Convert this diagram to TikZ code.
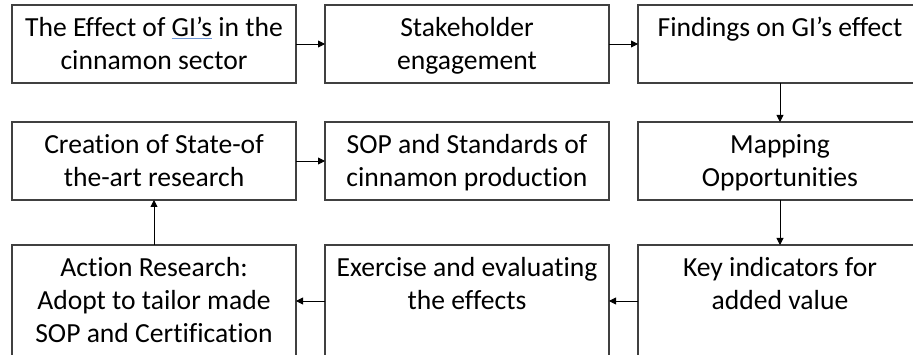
\documentclass[tikz,border=0pt]{standalone}
\usepackage{fontspec}
\setmainfont{Carlito}[Ligatures=NoCommon]
\usetikzlibrary{arrows.meta}
\definecolor{spellblue}{RGB}{110,150,215}
\definecolor{boxline}{RGB}{64,64,64}
% light blue underline as left by a spell checker
\newcommand\spellmark[1]{{\color{spellblue}\underline{\color{black}#1}}}
\begin{document}
\begin{tikzpicture}[x=1pt,y=-1pt,
  stepbox/.style={draw=boxline, line width=1.1pt, minimum width=284pt,
    minimum height=78pt, inner sep=0pt, outer sep=0pt},
  tallbox/.style={stepbox, minimum height=112pt},
  boxtext/.style={anchor=north, align=center, inner sep=0pt, yshift=-12pt,
    font=\fontsize{27.6}{33}\selectfont, text=black},
  flow/.style={draw=black, line width=0.9pt, -{Triangle[length=7pt,width=7pt]}}]
\useasboundingbox (0,0) rectangle (913,355);
\clip (0,0) rectangle (913,355);

% top row
\node[stepbox] (b1) at (154,44) {};
\node[stepbox] (b2) at (467,44) {};
\node[stepbox] (b3) at (780,44) {};
% middle row
\node[stepbox] (b4) at (154,161) {};
\node[stepbox] (b5) at (467,161) {};
\node[stepbox] (b6) at (780,161) {};
% bottom row
\node[tallbox] (b7) at (154,301) {};
\node[tallbox] (b8) at (467,301) {};
\node[tallbox] (b9) at (780,301) {};

\node[boxtext] (t1) at (b1.north) {The Effect of \spellmark{GI’s} in the\\cinnamon sector};
\node[boxtext] (t2) at (b2.north) {Stakeholder\\engagement};
\node[boxtext] (t3) at (b3.north) {Findings on GI’s effect};
\node[boxtext] (t4) at (b4.north) {Creation of State-of\\the-art research};
\node[boxtext] (t5) at (b5.north) {SOP and Standards of\\cinnamon production};
\node[boxtext] (t6) at (b6.north) {Mapping\\Opportunities};
\node[boxtext] (t7) at (b7.north) {Action Research:\\Adopt to tailor made\\SOP and Certification};
\node[boxtext] (t8) at (b8.north) {Exercise and evaluating\\the effects};
\node[boxtext] (t9) at (b9.north) {Key indicators for\\added value};

% flow between the steps
\draw[flow] (b1.east) -- (b2.west);
\draw[flow] (b2.east) -- (b3.west);
\draw[flow] (b3.south) -- (b6.north);
\draw[flow] (b6.south) -- (b9.north);
\draw[flow] (b9.west) -- (b8.east);
\draw[flow] (b8.west) -- (b7.east);
\draw[flow] (b7.north) -- (b4.south);
\draw[flow] (b4.east) -- (b5.west);
\end{tikzpicture}
\end{document}
